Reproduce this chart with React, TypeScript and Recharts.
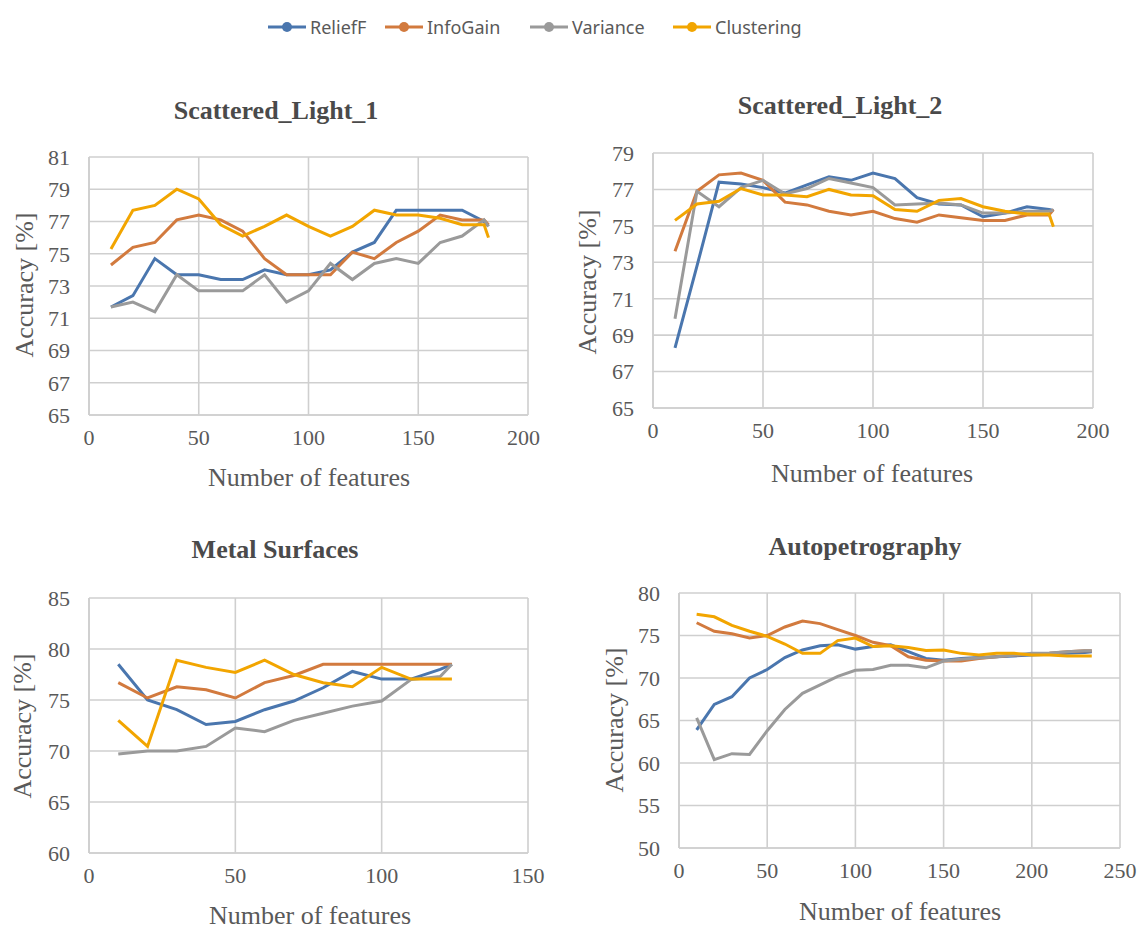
import { LineChart, Line, XAxis, YAxis, CartesianGrid } from "recharts";

// ---- data ----
const SERIES = ["ReliefF", "InfoGain", "Variance", "Clustering"];
const COLORS = ["#4A76AE", "#D27A3E", "#9A9A9A", "#F2A500"];

// Scattered_Light_1
const SL1_X = [10, 20, 30, 40, 50, 60, 70, 80, 90, 100, 110, 120, 130, 140, 150, 160, 170, 180, 182];
const SL1_RELIEFF = [71.7, 72.4, 74.7, 73.7, 73.7, 73.4, 73.4, 74.0, 73.7, 73.7, 74.0, 75.1, 75.7, 77.7, 77.7, 77.7, 77.7, 77.0, 76.7];
const SL1_INFOGAIN = [74.3, 75.4, 75.7, 77.1, 77.4, 77.1, 76.4, 74.7, 73.7, 73.7, 73.7, 75.1, 74.7, 75.7, 76.4, 77.4, 77.1, 77.1, 76.8];
const SL1_VARIANCE = [71.7, 72.0, 71.4, 73.7, 72.7, 72.7, 72.7, 73.7, 72.0, 72.7, 74.4, 73.4, 74.4, 74.7, 74.4, 75.7, 76.1, 77.1, 76.7];
const SL1_CLUSTERING = [75.3, 77.7, 78.0, 79.0, 78.4, 76.8, 76.1, 76.7, 77.4, 76.7, 76.1, 76.7, 77.7, 77.4, 77.4, 77.2, 76.8, 76.8, 76.0];

// Scattered_Light_2
const SL2_X = [10, 20, 30, 40, 50, 60, 70, 80, 90, 100, 110, 120, 130, 140, 150, 160, 170, 180, 182];
const SL2_RELIEFF = [68.3, 72.8, 77.4, 77.3, 77.1, 76.8, 77.25, 77.7, 77.5, 77.9, 77.6, 76.55, 76.2, 76.15, 75.5, 75.7, 76.05, 75.9, 75.85];
const SL2_INFOGAIN = [73.6, 76.9, 77.8, 77.9, 77.5, 76.3, 76.15, 75.8, 75.6, 75.8, 75.4, 75.2, 75.6, 75.45, 75.3, 75.3, 75.6, 75.6, 75.9];
const SL2_VARIANCE = [69.9, 76.9, 76.05, 77.1, 77.5, 76.75, 77.05, 77.6, 77.35, 77.1, 76.15, 76.2, 76.25, 76.15, 75.7, 75.7, 75.8, 75.8, 75.85];
const SL2_CLUSTERING = [75.3, 76.2, 76.35, 77.05, 76.7, 76.7, 76.6, 77.0, 76.7, 76.65, 75.9, 75.8, 76.4, 76.5, 76.05, 75.8, 75.65, 75.65, 74.95];

// Metal Surfaces
const MS_X = [10, 20, 30, 40, 50, 60, 70, 80, 90, 100, 110, 120, 124];
const MS_RELIEFF = [78.5, 75.0, 74.05, 72.6, 72.9, 74.05, 74.9, 76.2, 77.8, 77.05, 77.05, 78.0, 78.5];
const MS_INFOGAIN = [76.7, 75.2, 76.3, 76.0, 75.2, 76.7, 77.4, 78.5, 78.5, 78.5, 78.5, 78.5, 78.5];
const MS_VARIANCE = [69.7, 70.0, 70.0, 70.45, 72.25, 71.9, 73.0, 73.7, 74.4, 74.9, 77.0, 77.3, 78.5];
const MS_CLUSTERING = [73.0, 70.45, 78.9, 78.2, 77.7, 78.9, 77.5, 76.7, 76.3, 78.2, 77.05, 77.05, 77.05];

// Autopetrography
const AP_X = [10, 20, 30, 40, 50, 60, 70, 80, 90, 100, 110, 120, 130, 140, 150, 160, 170, 180, 190, 200, 210, 220, 230, 234];
const AP_RELIEFF = [63.9, 66.9, 67.8, 70.0, 71.0, 72.4, 73.3, 73.8, 73.9, 73.4, 73.7, 73.9, 73.1, 72.3, 72.1, 72.3, 72.4, 72.5, 72.6, 72.7, 72.8, 72.9, 73.0, 73.1];
const AP_INFOGAIN = [76.5, 75.5, 75.2, 74.7, 75.0, 76.0, 76.7, 76.4, 75.7, 75.0, 74.2, 73.8, 72.5, 72.1, 72.0, 72.0, 72.3, 72.5, 72.7, 72.8, 72.9, 73.1, 73.2, 73.2];
const AP_VARIANCE = [65.3, 60.4, 61.1, 61.0, 63.8, 66.3, 68.2, 69.2, 70.2, 70.9, 71.0, 71.5, 71.5, 71.2, 72.0, 72.2, 72.35, 72.5, 72.7, 72.9, 72.95, 73.1, 73.2, 73.2];
const AP_CLUSTERING = [77.5, 77.2, 76.2, 75.5, 74.9, 74.0, 72.9, 72.9, 74.4, 74.7, 73.7, 73.8, 73.6, 73.25, 73.3, 72.9, 72.7, 72.9, 72.9, 72.7, 72.7, 72.6, 72.6, 72.6];

const SL1_YTICKS = [65, 67, 69, 71, 73, 75, 77, 79, 81];
const SL2_YTICKS = [65, 67, 69, 71, 73, 75, 77, 79];
const MS_YTICKS = [60, 65, 70, 75, 80, 85];
const AP_YTICKS = [50, 55, 60, 65, 70, 75, 80];
const X200_TICKS = [0, 50, 100, 150, 200];
const X150_TICKS = [0, 50, 100, 150];
const X250_TICKS = [0, 50, 100, 150, 200, 250];

const build = (xs: number[], cols: number[][]) =>
  xs.map((x, i) => {
    const row: any = { x };
    SERIES.forEach((s, k) => (row[s] = cols[k][i]));
    return row;
  });

const TXT = "#595959";
const SERIF = "'Liberation Serif', 'DejaVu Serif', serif";
const GRID = "#CFCFCF";

interface PanelProps {
  left: number;
  top: number;
  width: number;
  height: number;
  plot: { l: number; r: number; t: number; b: number }; // page coords of plot area
  data: any[];
  xTicks: number[];
  yTicks: number[];
}

const Panel = ({ left, top, width, height, plot, data, xTicks, yTicks }: PanelProps) => {
  const yAxisW = 60;
  const xAxisH = 40;
  const margin = {
    left: plot.l - left - yAxisW,
    top: plot.t - top,
    right: left + width - plot.r,
    bottom: top + height - plot.b - xAxisH,
  };
  return (
    <div style={{ position: "absolute", left, top }}>
      <LineChart width={width} height={height} data={data} margin={margin}>
        <CartesianGrid stroke={GRID} strokeWidth={1.6} />
        <XAxis
          type="number"
          dataKey="x"
          domain={[xTicks[0], xTicks[xTicks.length - 1]]}
          ticks={xTicks}
          height={xAxisH}
          tickLine={false}
          axisLine={{ stroke: GRID, strokeWidth: 1.6 }}
          tickSize={0}
          tickMargin={14}
          tick={{ fill: TXT, fontSize: 22, fontFamily: SERIF }}
        />
        <YAxis
          type="number"
          domain={[yTicks[0], yTicks[yTicks.length - 1]]}
          ticks={yTicks}
          width={yAxisW}
          tickLine={false}
          axisLine={{ stroke: GRID, strokeWidth: 1.6 }}
          tickSize={0}
          tickMargin={19}
          interval={0}
          tick={{ fill: TXT, fontSize: 22, fontFamily: SERIF }}
        />
        {SERIES.map((s, k) => (
          <Line
            key={s}
            dataKey={s}
            stroke={COLORS[k]}
            strokeWidth={3}
            dot={false}
            isAnimationActive={false}
          />
        ))}
      </LineChart>
    </div>
  );
};

const Text = ({ x, y, children, size = 26, bold = false, rotate = false, color = TXT }: any) => (
  <div
    style={{
      position: "absolute",
      left: x,
      top: y,
      transform: `translate(-50%, -50%)${rotate ? " rotate(-90deg)" : ""}`,
      fontFamily: SERIF,
      fontSize: size,
      fontWeight: bold ? 700 : 400,
      color,
      whiteSpace: "nowrap",
      lineHeight: 1,
    }}
  >
    {children}
  </div>
);

// legend item start positions (marker line)
const LEGEND_X = [268, 385, 530, 673];

const Legend = () => (
  <>
    {SERIES.map((s, k) => (
      <div
        key={s}
        style={{
          position: "absolute",
          left: LEGEND_X[k],
          top: 15,
          display: "flex",
          alignItems: "center",
          gap: 4,
          fontFamily: "'Noto Sans', sans-serif",
          fontSize: 18,
          color: TXT,
        }}
      >
        <svg width={38} height={14}>
          <line x1={0} y1={7} x2={38} y2={7} stroke={COLORS[k]} strokeWidth={3} />
          <circle cx={19} cy={7} r={5} fill={COLORS[k]} />
        </svg>
        <span>{s}</span>
      </div>
    ))}
  </>
);

export default function App() {
  return (
    <div style={{ position: "absolute", left: 0, top: 0, width: 1141, height: 930, background: "#fff", overflow: "hidden" }}>
      <Legend />

      <Text x={276} y={111} bold color="#4A4A4A">Scattered_Light_1</Text>
      <Text x={25} y={285} rotate>Accuracy [%]</Text>
      <Text x={309} y={478}>Number of features</Text>
      <Panel
        left={0}
        top={130}
        width={540}
        height={330}
        plot={{ l: 89, r: 528, t: 157, b: 415 }}
        data={build(SL1_X, [SL1_RELIEFF, SL1_INFOGAIN, SL1_VARIANCE, SL1_CLUSTERING])}
        xTicks={X200_TICKS}
        yTicks={SL1_YTICKS}
      />

      <Text x={840} y={106} bold color="#4A4A4A">Scattered_Light_2</Text>
      <Text x={588} y={282} rotate>Accuracy [%]</Text>
      <Text x={872} y={474}>Number of features</Text>
      <Panel
        left={560}
        top={125}
        width={581}
        height={330}
        plot={{ l: 653, r: 1093, t: 153, b: 408 }}
        data={build(SL2_X, [SL2_RELIEFF, SL2_INFOGAIN, SL2_VARIANCE, SL2_CLUSTERING])}
        xTicks={X200_TICKS}
        yTicks={SL2_YTICKS}
      />

      <Text x={275} y={550} bold color="#4A4A4A">Metal Surfaces</Text>
      <Text x={23} y={726} rotate>Accuracy [%]</Text>
      <Text x={310} y={916}>Number of features</Text>
      <Panel
        left={0}
        top={570}
        width={560}
        height={330}
        plot={{ l: 89, r: 528, t: 598, b: 853 }}
        data={build(MS_X, [MS_RELIEFF, MS_INFOGAIN, MS_VARIANCE, MS_CLUSTERING])}
        xTicks={X150_TICKS}
        yTicks={MS_YTICKS}
      />

      <Text x={865} y={547} bold color="#4A4A4A">Autopetrography</Text>
      <Text x={615} y={720} rotate>Accuracy [%]</Text>
      <Text x={900} y={912}>Number of features</Text>
      <Panel
        left={570}
        top={565}
        width={571}
        height={330}
        plot={{ l: 679, r: 1120, t: 593, b: 848 }}
        data={build(AP_X, [AP_RELIEFF, AP_INFOGAIN, AP_VARIANCE, AP_CLUSTERING])}
        xTicks={X250_TICKS}
        yTicks={AP_YTICKS}
      />
    </div>
  );
}
